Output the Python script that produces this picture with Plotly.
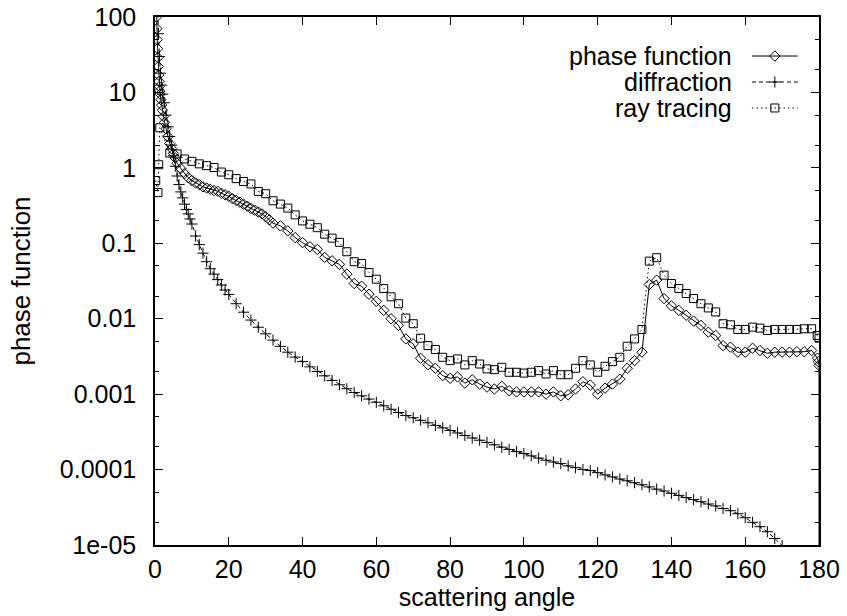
import plotly.graph_objects as go

# ---------------- data ----------------
phase_x = [0, 0.1, 0.2, 0.3, 0.4, 0.5, 0.6, 0.7, 0.8, 0.9, 1.0, 1.1, 1.2, 1.3, 1.4, 1.6, 1.8, 2.0,
           2.3, 2.6, 3.0, 3.5, 4.0, 4.5, 5.0, 5.5, 6, 7, 8, 9, 10, 11, 12, 13, 14, 15, 16, 17, 18,
           19, 20, 21, 22, 23, 24, 25, 26, 27, 28, 29, 30, 31, 32, 34, 36, 38, 40, 42, 44, 46, 48,
           50, 52, 54, 56, 58, 60, 62, 64, 66, 68, 70, 72, 74, 76, 78, 80, 82, 84, 86, 88, 90, 92,
           94, 96, 98, 100, 102, 104, 106, 108, 110, 112, 114, 116, 118, 120, 122, 124, 126, 128,
           130, 132, 134, 136, 138, 140, 142, 144, 146, 148, 150, 152, 154, 156, 158, 160, 162,
           164, 166, 168, 170, 172, 174, 176, 178, 179.6, 179.8, 180, 180]
phase_y = [1000, 500, 250, 150, 100, 70, 50, 38, 29, 22, 17, 14, 12, 10.5, 9.5, 8, 6.8, 5.8,
           4.8, 4.0, 3.3, 2.6, 2.1, 1.8, 1.55, 1.35, 1.15, 0.98, 0.84, 0.74, 0.68, 0.63, 0.6, 0.56,
           0.54, 0.52, 0.5, 0.49, 0.46, 0.44, 0.42, 0.39, 0.37, 0.35, 0.33, 0.31, 0.29, 0.275,
           0.26, 0.245, 0.225, 0.205, 0.185, 0.170, 0.146, 0.119, 0.102, 0.090, 0.083, 0.065,
           0.0586, 0.0525, 0.039, 0.0293, 0.027, 0.0211, 0.017, 0.0129, 0.0100, 0.00815, 0.0054,
           0.00464, 0.00299, 0.00246, 0.0022, 0.00176, 0.00162, 0.00169, 0.0014, 0.00155, 0.00136,
           0.00124, 0.00117, 0.00127, 0.00111, 0.00107, 0.00107, 0.00107, 0.00107, 0.001, 0.00107,
           0.00095, 0.00098, 0.00117, 0.00146, 0.00132, 0.001, 0.0012, 0.00136, 0.00158, 0.0022,
           0.00278, 0.0036, 0.0284, 0.0325, 0.0185, 0.0148, 0.0129, 0.0111, 0.0093, 0.00815,
           0.00664, 0.006, 0.0044, 0.0042, 0.0036, 0.0036, 0.00406, 0.00379, 0.00348, 0.0036,
           0.0036, 0.0036, 0.00365, 0.00365, 0.00379, 0.0030, 0.0027, 0.0024, 1e-8]

diff_x = [0.3, 0.6, 0.9, 1.2, 1.5, 1.8, 2.1, 2.5, 3.0, 3.5, 4.0, 4.5, 5.0, 5.5, 6, 6.5, 7, 7.5, 8,
          8.5, 9, 9.5, 10, 11, 12, 13, 14, 15, 16, 17, 18, 19, 20, 22, 24, 26, 28, 30, 32, 34, 36,
          38, 40, 42, 44, 46, 48, 50, 52, 54, 56, 58, 60, 62, 64, 66, 68, 70, 72, 74, 76, 78, 80,
          82, 84, 86, 88, 90, 92, 94, 96, 98, 100, 102, 104, 106, 108, 110, 112, 114, 116, 118,
          120, 122, 124, 126, 128, 130, 132, 134, 136, 138, 140, 142, 144, 146, 148, 150, 152,
          154, 156, 158, 160, 162, 164, 166, 168, 170, 172, 174, 176, 178, 180]
diff_y = [400, 150, 60, 30, 18, 12.5, 9.5, 7.3, 5.0, 3.5, 2.6, 2.0, 1.45, 1.05, 0.78, 0.6, 0.48,
          0.4, 0.33, 0.28, 0.245, 0.21, 0.18, 0.125, 0.096, 0.074, 0.057, 0.046, 0.039, 0.033,
          0.028, 0.024, 0.021, 0.0158, 0.0122, 0.0096, 0.0077, 0.0063, 0.0052, 0.0043, 0.0036,
          0.0031, 0.0027, 0.0023, 0.002, 0.00175, 0.00152, 0.00133, 0.00118, 0.00105, 0.00095,
          0.00086, 0.00078, 0.0007, 0.00063, 0.00057, 0.00052, 0.000486, 0.00045, 0.000417,
          0.000385, 0.000357, 0.00033, 0.000306, 0.000283, 0.000262, 0.000245, 0.000229,
          0.000213, 0.000198, 0.000185, 0.000173, 0.000163, 0.000152, 0.000142, 0.000133,
          0.000126, 0.00012, 0.000112, 0.000106, 0.0001, 9.7e-5, 9.1e-5, 8.5e-5, 8.0e-5, 7.5e-5,
          7.1e-5, 6.7e-5, 6.3e-5, 5.9e-5, 5.5e-5, 5.2e-5, 4.85e-5, 4.55e-5, 4.25e-5, 4.0e-5,
          3.75e-5, 3.5e-5, 3.3e-5, 3.05e-5, 2.85e-5, 2.6e-5, 2.3e-5, 2.0e-5, 1.75e-5, 1.5e-5,
          1.22e-5, 9.8e-6, 7.5e-6, 5.5e-6, 4e-6, 3e-6, 2.5e-6]

ray_x = [0.2, 0.8, 1.0, 1.3, 4, 6, 8, 10, 12, 14, 16, 18, 20, 22, 24, 26, 28, 30, 32, 34, 36, 38,
         40, 42, 44, 46, 48, 50, 52, 54, 56, 58, 60, 62, 64, 66, 68, 70, 72, 74, 76, 78, 80, 82,
         84, 86, 88, 90, 92, 94, 96, 98, 100, 102, 104, 106, 108, 110, 112, 114, 116, 118, 120,
         122, 124, 126, 128, 130, 132, 134, 136, 138, 140, 142, 144, 146, 148, 150, 152, 154,
         156, 158, 160, 162, 164, 166, 168, 170, 172, 174, 176, 178, 179.5, 180]
ray_y = [0.68, 0.47, 1.1, 3.4, 1.57, 1.53, 1.31, 1.22, 1.13, 1.07, 1.01, 0.88, 0.81, 0.72, 0.66,
         0.612, 0.487, 0.454, 0.366, 0.331, 0.293, 0.238, 0.198, 0.179, 0.161, 0.132, 0.117,
         0.103, 0.0773, 0.057, 0.054, 0.041, 0.0334, 0.0251, 0.0195, 0.0158, 0.0102, 0.00858,
         0.00552, 0.0044, 0.0039, 0.00308, 0.00278, 0.00293, 0.00244, 0.00278, 0.00251, 0.00216,
         0.00211, 0.00227, 0.00195, 0.00195, 0.0019, 0.00195, 0.00205, 0.00185, 0.00205, 0.00181,
         0.00181, 0.0022, 0.00278, 0.00244, 0.00195, 0.00234, 0.0027, 0.00308, 0.00432, 0.0054,
         0.00721, 0.058, 0.0644, 0.0378, 0.0293, 0.0251, 0.0216, 0.0185, 0.0158, 0.0139, 0.0123,
         0.00858, 0.0083, 0.00721, 0.00721, 0.00774, 0.0075, 0.00699, 0.00721, 0.00721, 0.00721,
         0.00721, 0.00736, 0.00736, 0.006, 0.00552]

series_names = ["phase function", "diffraction", "ray tracing"]
x_ticks = [0, 20, 40, 60, 80, 100, 120, 140, 160, 180]
y_ticks = [1e-5, 1e-4, 1e-3, 1e-2, 1e-1, 1, 10, 100]
y_ticktext = ["1e-05", "0.0001", "0.001", "0.01", "0.1", "1", "10", "100"]
y_minor = [m * d for d in [1e-5, 1e-4, 1e-3, 1e-2, 1e-1, 1, 10] for m in (2, 5)]

# ---------------- styles ----------------
FONT = "Liberation Sans, Arial, Helvetica, sans-serif"
styles = [
    dict(dash="solid", symbol="diamond-open", size=8),
    dict(dash="4px,3px", symbol="cross-thin", size=8),
    dict(dash="1.5px,3px", symbol="square-open", size=8),
]
datasets = [(phase_x, phase_y), (diff_x, diff_y), (ray_x, ray_y)]

fig = go.Figure()
for (xs, ys), st, name in zip(datasets, styles, series_names):
    fig.add_trace(go.Scatter(
        x=xs, y=ys, mode="lines+markers", name=name, showlegend=False,
        line=dict(color="black", width=1, dash=st["dash"]),
        marker=dict(symbol=st["symbol"], size=st["size"], color="black",
                    line=dict(color="black", width=1)),
    ))

# gnuplot-style key: text right-aligned, sample on the right (overlay axes in [0,1])
key_rows = [0.9261, 0.8769, 0.8277]
key_text_x = 0.870
key_line = (0.899, 0.968)
for row, st, name in zip(key_rows, styles, series_names):
    fig.add_trace(go.Scatter(
        x=list(key_line), y=[row, row], mode="lines", xaxis="x2", yaxis="y2",
        showlegend=False, hoverinfo="skip",
        line=dict(color="black", width=1, dash=st["dash"]),
    ))
    fig.add_trace(go.Scatter(
        x=[sum(key_line) / 2], y=[row], mode="markers", xaxis="x2", yaxis="y2",
        showlegend=False, hoverinfo="skip",
        marker=dict(symbol=st["symbol"], size=st["size"], color="black",
                    line=dict(color="black", width=1)),
    ))
    fig.add_annotation(x=key_text_x, y=row, xref="x2", yref="y2", text=name,
                       showarrow=False, xanchor="right", yanchor="middle",
                       borderpad=0,
                       font=dict(family=FONT, size=25, color="black"))

axis_common = dict(
    showline=True, linecolor="black", linewidth=1.5, mirror="allticks",
    ticks="inside", ticklen=8, tickwidth=1, tickcolor="black",
    showgrid=False, zeroline=False,
    tickfont=dict(family=FONT, size=25, color="black"),
)

fig.update_layout(
    width=847, height=616,
    margin=dict(l=155, r=28, t=17, b=71, autoexpand=False),
    paper_bgcolor="white", plot_bgcolor="white",
    showlegend=False,
    xaxis=dict(range=[0, 180], tickvals=x_ticks, ticklabelstandoff=1,
               title=dict(text="scattering angle", standoff=0,
                          font=dict(family=FONT, size=25, color="black")),
               **axis_common),
    yaxis=dict(type="log", range=[-5, 2], tickvals=y_ticks, ticktext=y_ticktext,
               ticklabelstandoff=12,
               minor=dict(tickvals=y_minor, ticks="inside", ticklen=4, tickcolor="black"),
               title=dict(text="phase function", standoff=22,
                          font=dict(family=FONT, size=26, color="black")),
               **axis_common),
    xaxis2=dict(overlaying="x", range=[0, 1], visible=False, anchor="y2"),
    yaxis2=dict(overlaying="y", range=[0, 1], visible=False, anchor="x2"),
)

fig.write_html("out.html")
